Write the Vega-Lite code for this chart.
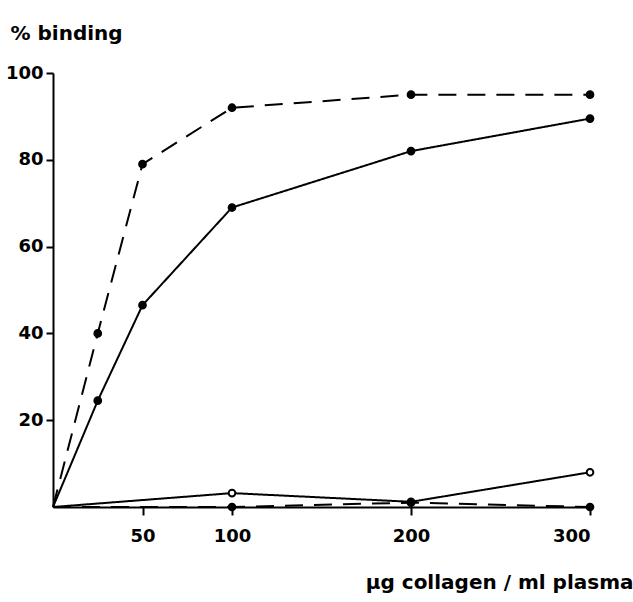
{
  "$schema": "https://vega.github.io/schema/vega-lite/v6.json",
  "width": 537,
  "height": 434,
  "autosize": {"type": "none"},
  "padding": {"left": 53, "top": 73, "right": 43, "bottom": 95},
  "background": "white",
  "config": {
    "view": {"stroke": null},
    "font": "DejaVu Sans",
    "axis": {
      "domainColor": "black",
      "domainWidth": 2,
      "tickColor": "black",
      "tickWidth": 2,
      "labelColor": "black",
      "titleColor": "black",
      "labelFont": "DejaVu Sans",
      "titleFont": "DejaVu Sans",
      "labelFontSize": 18,
      "titleFontSize": 20,
      "labelFontWeight": "bold",
      "titleFontWeight": "bold",
      "grid": false
    }
  },
  "data": {
    "values": [
      {"series": "A", "conc": 0, "binding": 0},
      {"series": "A", "conc": 25, "binding": 40},
      {"series": "A", "conc": 50, "binding": 79},
      {"series": "A", "conc": 100, "binding": 92},
      {"series": "A", "conc": 200, "binding": 95},
      {"series": "A", "conc": 300, "binding": 95},
      {"series": "B", "conc": 0, "binding": 0},
      {"series": "B", "conc": 25, "binding": 24.5},
      {"series": "B", "conc": 50, "binding": 46.5},
      {"series": "B", "conc": 100, "binding": 69},
      {"series": "B", "conc": 200, "binding": 82},
      {"series": "B", "conc": 300, "binding": 89.5},
      {"series": "C", "conc": 0, "binding": 0},
      {"series": "C", "conc": 100, "binding": 3.2},
      {"series": "C", "conc": 200, "binding": 1.2},
      {"series": "C", "conc": 300, "binding": 8},
      {"series": "D", "conc": 0, "binding": 0},
      {"series": "D", "conc": 100, "binding": 0},
      {"series": "D", "conc": 200, "binding": 1},
      {"series": "D", "conc": 300, "binding": 0}
    ]
  },
  "encoding": {
    "x": {
      "field": "conc",
      "type": "quantitative",
      "scale": {"domain": [0, 300], "nice": false},
      "axis": {
        "values": [50, 100, 200, 300],
        "tickSize": 8,
        "labelPadding": 12,
        "title": "µg collagen / ml plasma",
        "titleAlign": "right",
        "titleAnchor": "end",
        "titleX": 580,
        "titleY": 81,
        "titleBaseline": "alphabetic"
      }
    },
    "y": {
      "field": "binding",
      "type": "quantitative",
      "scale": {"domain": [0, 100], "nice": false},
      "axis": {
        "values": [20, 40, 60, 80, 100],
        "tickSize": 7,
        "labelPadding": 3,
        "title": "% binding",
        "titleAngle": 0,
        "titleAlign": "left",
        "titleBaseline": "alphabetic",
        "titleX": -43,
        "titleY": -34
      }
    }
  },
  "layer": [
    {
      "mark": {"type": "line", "color": "black", "strokeWidth": 2},
      "encoding": {
        "detail": {"field": "series"},
        "strokeDash": {
          "field": "series",
          "type": "nominal",
          "scale": {"domain": ["A", "B", "C", "D"], "range": [[18, 11], [1, 0], [1, 0], [18, 11]]},
          "legend": null
        }
      }
    },
    {
      "transform": [{"filter": "datum.conc > 0"}],
      "mark": {"type": "circle", "stroke": "black", "strokeWidth": 2, "opacity": 1},
      "encoding": {
        "fill": {
          "field": "series",
          "type": "nominal",
          "scale": {"domain": ["A", "B", "C", "D"], "range": ["black", "black", "white", "black"]},
          "legend": null
        },
        "size": {
          "field": "series",
          "type": "nominal",
          "scale": {"domain": ["A", "B", "C", "D"], "range": [45, 45, 22, 22]},
          "legend": null
        }
      }
    }
  ]
}
